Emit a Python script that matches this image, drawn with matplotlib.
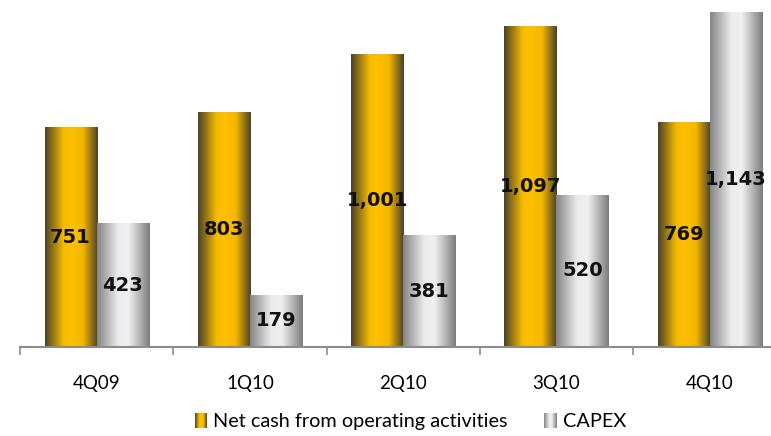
import matplotlib.pyplot as plt
import numpy as np
from matplotlib.colors import LinearSegmentedColormap

# data
quarters = ['4Q09', '1Q10', '2Q10', '3Q10', '4Q10']
net_cash = [751, 803, 1001, 1097, 769]
capex = [423, 179, 381, 520, 1143]
net_cash_labels = ['751', '803', '1,001', '1,097', '769']
capex_labels = ['423', '179', '381', '520', '1,143']

gold_cmap = LinearSegmentedColormap.from_list(
    'gold', [(0.0, '#4a4128'), (0.35, '#f6bb00'), (0.5, '#ffc000'),
             (0.72, '#f4b700'), (1.0, '#4a4128')])
gray_cmap = LinearSegmentedColormap.from_list(
    'gray', [(0.0, '#858585'), (0.4, '#ececec'), (0.6, '#f0f0f0'),
             (1.0, '#7c7c7c')])

fig = plt.figure(figsize=(7.71, 4.36), dpi=100)
ax = fig.add_axes([20 / 771, 89 / 436, 751 / 771, 347 / 436])

x = np.arange(len(quarters))
w = 0.34
b1 = ax.bar(x - w / 2, net_cash, w, color='none', edgecolor='none')
b2 = ax.bar(x + w / 2, capex, w, color='none', edgecolor='none')

grad = np.linspace(0, 1, 256).reshape(1, -1)


def shade(bars, cmap):
    for p in bars:
        x0, y0 = p.get_x(), p.get_y()
        im = ax.imshow(grad, cmap=cmap, aspect='auto', interpolation='bicubic',
                       extent=(x0, x0 + p.get_width(), y0, y0 + p.get_height()),
                       zorder=2)
        im.set_clip_path(p)


shade(b1, gold_cmap)
shade(b2, gray_cmap)

for bars, labels in [(b1, net_cash_labels), (b2, capex_labels)]:
    for p, lab in zip(bars, labels):
        ax.text(p.get_x() + p.get_width() / 2, p.get_height() / 2, lab,
                ha='center', va='center', fontsize=14, fontweight='bold',
                family='DejaVu Sans', color='#111111', zorder=3)

ax.set_xlim(-0.5, 4.4)
ax.set_ylim(0, 1185)
ax.set_xticks(x)
ax.set_xticklabels(quarters, fontsize=13.5, family='Lato')
ax.tick_params(axis='x', which='major', length=0, pad=20)
ax.set_xticks(np.arange(-0.5, 4.5, 1), minor=True)
ax.tick_params(axis='x', which='minor', length=6, width=1.2, color='#8c8c8c')
ax.set_yticks([])
for s in ['top', 'right', 'left']:
    ax.spines[s].set_visible(False)
ax.spines['bottom'].set_color('#8c8c8c')
ax.spines['bottom'].set_linewidth(1.5)

# legend
lx = [195, 544]
tx = [213, 563]
names = ['Net cash from operating activities', 'CAPEX']
cmaps = [gold_cmap, gray_cmap]
for px, t, name, cm in zip(lx, tx, names, cmaps):
    lax = fig.add_axes([px / 771, (436 - 428) / 436, 12 / 771, 15 / 436])
    lax.imshow(grad, cmap=cm, aspect='auto')
    lax.axis('off')
    fig.text(t / 771, (436 - 421) / 436, name, fontsize=14.3,
             family='Lato', va='center', ha='left')

fig.savefig('out.png', dpi=100)
